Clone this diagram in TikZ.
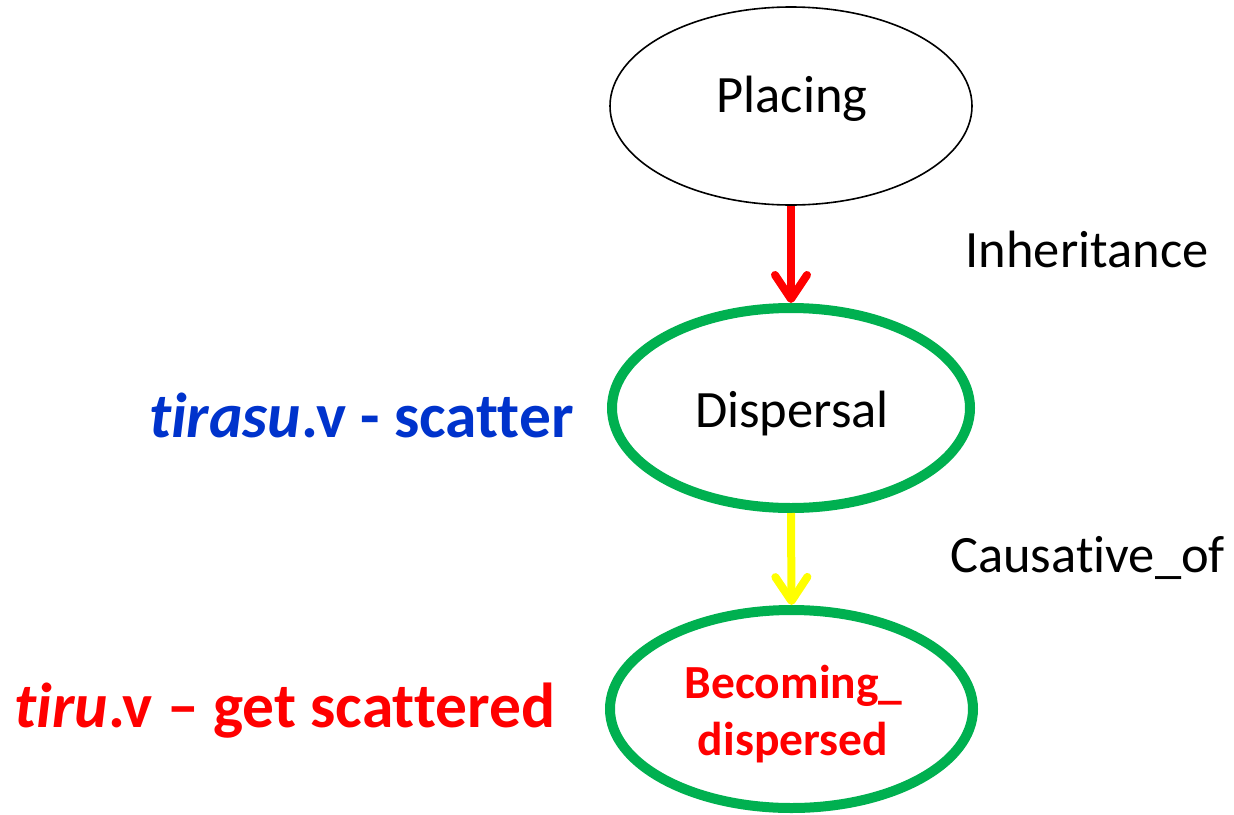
\documentclass[tikz,border=0pt]{standalone}
\usepackage{fontspec}
\setmainfont[Ligatures={TeX,NoCommon}]{Carlito}
\usetikzlibrary{shapes.geometric,arrows.meta}
\definecolor{frgreen}{RGB}{0,176,80}
\definecolor{frblue}{RGB}{0,51,204}
\definecolor{frred}{RGB}{255,0,0}
\definecolor{fryellow}{RGB}{255,255,0}
\tikzset{
  frame/.style={ellipse,inner sep=0pt,draw},
  plainframe/.style={frame,draw=black,line width=1.6pt},
  greenframe/.style={frame,draw=frgreen,line width=10pt},
  reltext/.style={anchor=base,inner sep=0pt,font=\fontsize{52.5}{63}\selectfont},
  lutext/.style={anchor=base,inner sep=0pt,font=\fontsize{63.5}{76}\selectfont\bfseries},
  frametext/.style={anchor=base,inner sep=0pt,text=frred,font=\fontsize{47.5}{57}\selectfont\bfseries},
  relarrow/.style={line width=8pt,-{Straight Barb[length=24pt,width=32pt,round]}},
}
\begin{document}
\begin{tikzpicture}[x=1pt,y=-1pt]
\useasboundingbox (0,0) rectangle (1234,814);
% frames
\node[plainframe,minimum width=362pt,minimum height=198pt] (placing) at (791,106) {};
\node[greenframe,minimum width=358pt,minimum height=200pt] (dispersal) at (791,408) {};
\node[greenframe,minimum width=363pt,minimum height=198pt] (becoming) at (791.5,709) {};
% frame texts
\node[reltext] (tplacing) at (792,112) {Placing};
\node[reltext] (tdispersal) at (792,427) {Dispersal};
\node[frametext] (tbecoming1) at (793.5,698) {Becoming\_};
\node[frametext] (tbecoming2) at (793,755) {dispersed};
% relations
\draw[relarrow,draw=frred] (placing.south) -- (dispersal.north);
\draw[relarrow,draw=fryellow] (dispersal.south) -- (becoming.north);
\node[reltext] (inh) at (1087,267) {Inheritance};
\node[reltext] (caus) at (1087.5,572) {Causative\_of};
% lexical units
\node[lutext,text=frblue] (tirasu) at (361.5,437) {\textit{tirasu}.v - scatter};
\node[lutext,text=frred] (tiru) at (285,727) {\textit{tiru}.v \textendash{} get scattered};
\end{tikzpicture}
\end{document}
